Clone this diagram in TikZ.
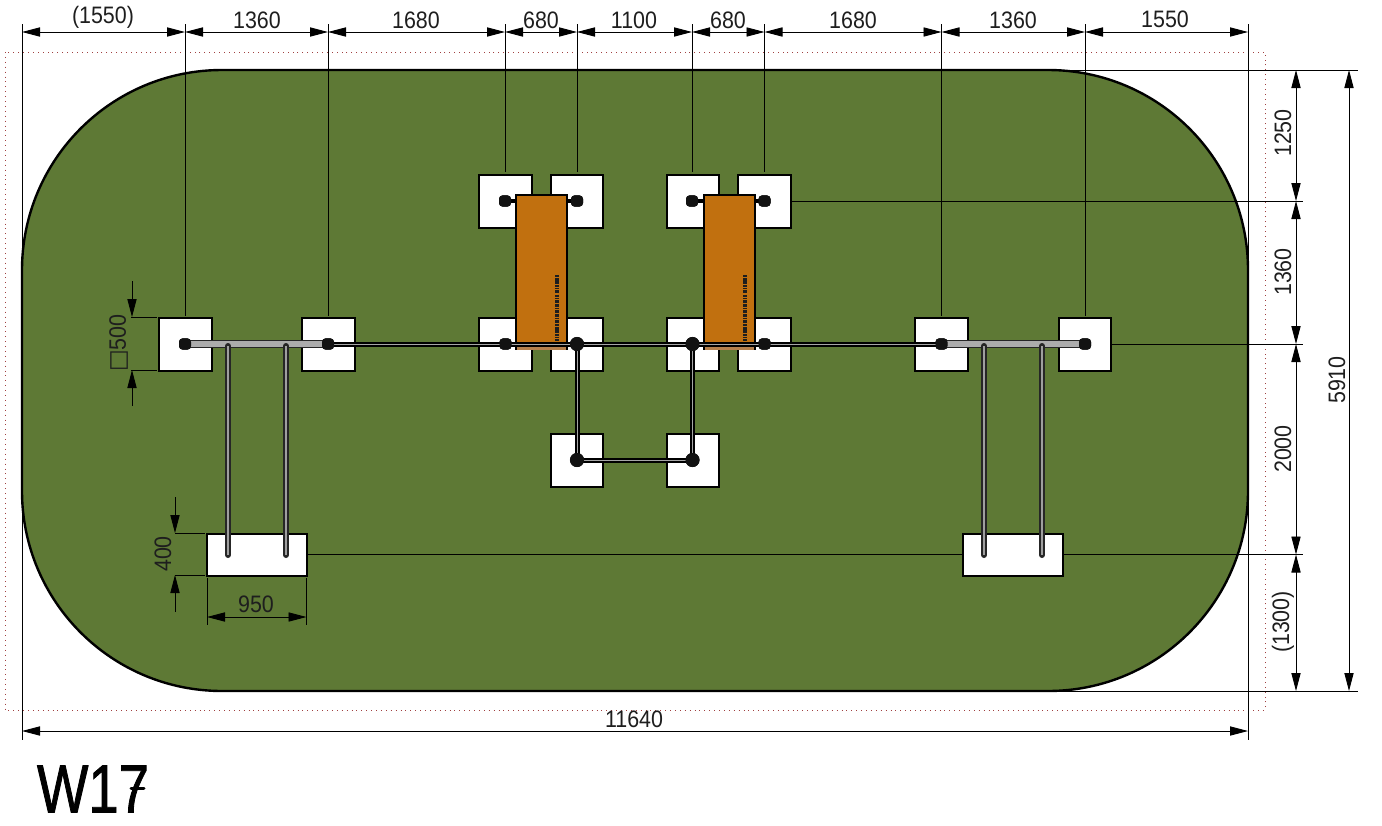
\documentclass[tikz,border=0pt]{standalone}
\usepackage{fontspec}
\setmainfont[FakeStretch=0.9]{Liberation Sans}
\newfontfamily\symfont{DejaVu Sans}
\usetikzlibrary{arrows.meta}
\definecolor{lawn}{HTML}{5E7935}
\definecolor{wood}{HTML}{C1700F}
\definecolor{woodedge}{HTML}{B5804D}
\definecolor{framered}{HTML}{A04040}
\definecolor{ink}{HTML}{1E1E1E}
\tikzset{
  px/.style={x=0.5pt,y=-0.5pt},
  footing/.style={draw=black,fill=white,line width=0.9pt,minimum width=26.3pt,minimum height=26.3pt,inner sep=0pt},
  slab/.style={draw=black,fill=white,line width=0.9pt,minimum width=50pt,minimum height=21pt,inner sep=0pt},
  board/.style={draw=black,fill=wood,line width=0.9pt,minimum width=25.5pt,minimum height=77pt,inner sep=0pt},
  postsq/.style={fill=ink!60!black,draw=ink!60!black,rounded corners=1.6pt,minimum width=5.6pt,minimum height=5.2pt,inner sep=0pt},
  postrd/.style={fill=ink!60!black,draw=ink!60!black,circle,minimum size=6.6pt,inner sep=0pt},
  extline/.style={draw=black,line width=0.45pt},
  dimline/.style={draw=black,line width=0.45pt,{Triangle[length=9pt,width=4.6pt]}-{Triangle[length=9pt,width=4.6pt]}},
  tipin/.style={draw=black,line width=0.45pt,-{Triangle[length=9pt,width=4.6pt]}},
  dimtext/.style={text=ink,font=\fontsize{11.9}{14}\selectfont,inner sep=0pt},
  dimtextv/.style={dimtext,rotate=90},
  darkpipe/.style={draw=black,line width=2.5pt},
  darkcore/.style={draw=gray!70,line width=0.4pt},
  greypipe/.style={draw=black!85,line width=3.6pt},
  greycore/.style={draw=gray!65,line width=2.6pt},
  thinpipe/.style={draw=black!85,line width=3pt,line cap=round},
  thincore/.style={draw=gray!75,line width=1.4pt}
}
\begin{document}
\begin{tikzpicture}[px]
\useasboundingbox (0,0) rectangle (1382,825);
% frame and lawn
\draw[framered,line width=0.45pt,dotted] (5,52) rectangle (1265,710);
\draw[fill=lawn,draw=black,line width=1.2pt] (222,70) -- (1048,70) arc[start angle=-90,end angle=0,radius=200] -- (1248,491) arc[start angle=0,end angle=90,radius=200] -- (222,691) arc[start angle=90,end angle=180,radius=200] -- (22,270) arc[start angle=180,end angle=270,radius=200] -- cycle;
% footings
\foreach \nm/\cx/\cy in {a1/505.5/201.5,a2/577/201.5,a3/693/201.5,a4/764.5/201.5,
  b1/185.5/344.5,b2/328.5/344.5,b3/505.5/344.5,b4/577/344.5,b5/693/344.5,b6/764.5/344.5,b7/941.5/344.5,b8/1085/344.5,
  c1/577/460.5,c2/693/460.5}
  \node[footing] (f\nm) at (\cx,\cy) {};
\node[slab] (sl) at (257,555) {};
\node[slab] (sr) at (1013,555) {};
% posts
\foreach \nm/\cx/\cy in {a1/505/201,a2/577/201,a3/692/201,a4/764.5/201,b1/185/344,b2/328/344,b3/505.5/344,b6/764.5/344,b7/941.5/344,b8/1085/344}
  \node[postsq] (p\nm) at (\cx,\cy) {};
\foreach \nm/\cx/\cy in {b4/577/344,b5/692.5/344,c1/577/460,c2/692.5/460}
  \node[postrd] (p\nm) at (\cx,\cy) {};
% top short rails, under the boards
\draw[line width=2.2pt,black] (pa1.center) -- (pa2.center);
\draw[line width=2.2pt,black] (pa3.center) -- (pa4.center);
\node[postsq] at (pa1) {};\node[postsq] at (pa2) {};\node[postsq] at (pa3) {};\node[postsq] at (pa4) {};
% boards
\node[board] (bdl) at (541.5,272) {};
\node[board] (bdr) at (729.5,272) {};
\draw[woodedge,line width=2pt] (517,347.5) -- (566,347.5);
\draw[woodedge,line width=2pt] (705,347.5) -- (754,347.5);
\draw[ink,line width=1.7pt,dash pattern=on 1.2pt off .5pt on .6pt off .4pt on 1.6pt off .6pt] (557,275) -- (557,341);
\draw[ink,line width=1.7pt,dash pattern=on 1.2pt off .5pt on .6pt off .4pt on 1.6pt off .6pt] (745,275) -- (745,341);
% hooks on the grey bars
\coordinate (hl1t) at (228,346); \coordinate (hl1b) at (228,555);
\coordinate (hl2t) at (286,346); \coordinate (hl2b) at (286,555);
\coordinate (hr1t) at (984,346); \coordinate (hr1b) at (984,555);
\coordinate (hr2t) at (1042,346); \coordinate (hr2b) at (1042,555);
% rails
\draw[greypipe] (pb1.center) -- (pb2.center);
\draw[greycore] (pb1.center) -- (pb2.center);
\draw[greypipe] (pb7.center) -- (pb8.center);
\draw[greycore] (pb7.center) -- (pb8.center);
\draw[darkpipe] (pb2.center) -- (pb7.center);
\draw[darkcore] (pb2.center) -- (pb7.center);
\foreach \u/\v in {hl1t/hl1b,hl2t/hl2b,hr1t/hr1b,hr2t/hr2b}{
  \draw[thinpipe] (\u) -- (\v);
  \draw[thincore] (\u) -- (\v);
}
\foreach \u/\v in {pb4/pc1,pb5/pc2,pc1/pc2}{
  \draw[darkpipe] (\u.center) -- (\v.center);
  \draw[darkcore] (\u.center) -- (\v.center);
}
\foreach \nm in {b1,b2,b3,b6,b7,b8}\node[postsq] at (p\nm) {};
\foreach \nm in {b4,b5,c1,c2}\node[postrd] at (p\nm) {};
% top dimension chain
\foreach \nm/\cx in {0/22,1/185,2/328,3/505,4/577,5/692,6/764.5,7/941.5,8/1085,9/1248}
  \coordinate (t\nm) at (\cx,32);
\draw[extline] (22,24) -- (22,740);
\draw[extline] (1248,24) -- (1248,740);
\draw[extline] (185,24) -- (185,316);
\draw[extline] (328,24) -- (328,316);
\draw[extline] (505,24) -- (505,172);
\draw[extline] (577,24) -- (577,172);
\draw[extline] (692,24) -- (692,172);
\draw[extline] (764.5,24) -- (764.5,172);
\draw[extline] (941.5,24) -- (941.5,316);
\draw[extline] (1085,24) -- (1085,316);
\foreach \a/\b in {0/1,1/2,2/3,3/4,4/5,5/6,6/7,7/8,8/9}
  \draw[dimline] (t\a) -- (t\b);
\node[dimtext] (d1) at (103,17) {(1550)};
\node[dimtext] (d2) at (257,20) {1360};
\node[dimtext] (d3) at (416,20) {1680};
\node[dimtext] (d4) at (541,20) {680};
\node[dimtext] (d5) at (634,20) {1100};
\node[dimtext] (d6) at (728,20) {680};
\node[dimtext] (d7) at (853,20) {1680};
\node[dimtext] (d8) at (1013,20) {1360};
\node[dimtext] (d9) at (1165,19) {1550};
% right dimension chain
\draw[extline] (1040,70) -- (1358,70);
\draw[extline] (791,201) -- (1303,201);
\draw[extline] (1112,344) -- (1303,344);
\draw[extline] (sl.east |- 0,554.5) -- (sr.west |- 0,554.5);
\draw[extline] (sr.east |- 0,554.5) -- (1303,554.5);
\draw[extline] (1040,691) -- (1358,691);
\foreach \nm/\cy in {0/70,1/201,2/344,3/554.5,4/691}
  \coordinate (r\nm) at (1296,\cy);
\foreach \a/\b in {0/1,1/2,2/3,3/4}
  \draw[dimline] (r\a) -- (r\b);
\coordinate (o0) at (1349,70); \coordinate (o1) at (1349,691);
\draw[dimline] (o0) -- (o1);
\node[dimtextv] (e1) at (1283,133) {1250};
\node[dimtextv] (e2) at (1283,272) {1360};
\node[dimtextv] (e3) at (1283,449) {2000};
\node[dimtextv] (e4) at (1283,622) {(1300)};
\node[dimtextv] (e5) at (1337,380) {5910};
% overall width
\coordinate (w0) at (22,731); \coordinate (w1) at (1248,731);
\draw[dimline] (w0) -- (w1);
\node[dimtext] (wt) at (634,719) {11640};
% square 500
\draw[extline] (131,317) -- (157,317);
\draw[extline] (131,370) -- (157,370);
\coordinate (q0) at (132,281); \coordinate (q1) at (132,317); \coordinate (q2) at (132,406); \coordinate (q3) at (132,370);
\draw[tipin] (q0) -- (q1);
\draw[tipin] (q2) -- (q3);
\node[dimtextv] (qt) at (119,343) {{\symfont\fontsize{11.5}{14}\selectfont □}500};
% slab height 400
\draw[extline] (175,533) -- (205,533);
\draw[extline] (175,575) -- (205,575);
\coordinate (h0) at (175,497); \coordinate (h1) at (175,533); \coordinate (h2) at (175,612); \coordinate (h3) at (175,575);
\draw[tipin] (h0) -- (h1);
\draw[tipin] (h2) -- (h3);
\node[dimtextv] (ht) at (163,554) {400};
% slab width 950
\draw[extline] (207,578) -- (207,625);
\draw[extline] (306.5,578) -- (306.5,625);
\coordinate (s0) at (207,617); \coordinate (s1) at (306.5,617);
\draw[dimline] (s0) -- (s1);
\node[dimtext] (st) at (256,604) {950};
% title
\node[text=black,font=\fontsize{34}{38}\selectfont,inner sep=0pt] (ttl) at (93,789) {\addfontfeature{FakeStretch=0.8,FakeBold=1.2}W17};
\draw[black,line width=1.5pt,line cap=round] (131,788.5) -- (144,788.5);
\end{tikzpicture}
\end{document}
